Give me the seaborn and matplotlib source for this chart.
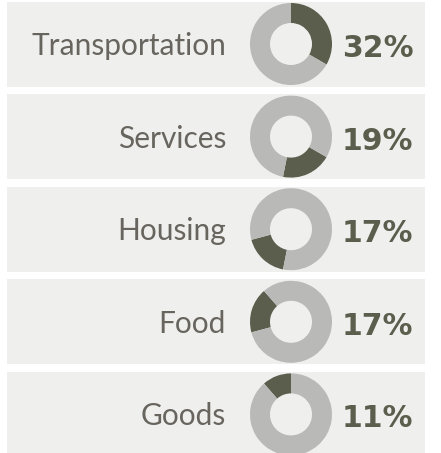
import numpy as np
import pandas as pd
import matplotlib.pyplot as plt
import seaborn as sns
from matplotlib.patches import Rectangle

categories=['Transportation','Services','Housing','Food','Goods']
shares=[32,19,17,17,11]
share_labels=['32%','19%','17%','17%','11%']

dark_col='#5b5e4d'
light_col='#b9b9b7'
band_col='#efefed'
text_col='#68655f'

sns.set_theme(style='white')
plt.rcParams['font.family']=['Lato','DejaVu Sans']

W,H=441,453
fig=plt.figure(figsize=(W/100,H/100),dpi=100)
ax=fig.add_axes([0,0,1,1])

df=pd.DataFrame({'category':categories,'share':shares,'label':share_labels})
total=df['share'].sum()
df['start']=df['share'].cumsum().shift(fill_value=0)/total

for i,row in df.iterrows():
    yc=H-(44+92.6*i)
    # grey band behind each row
    top=min(yc+42.5,H)
    ax.add_patch(Rectangle((7,yc-42.5),418,top-(yc-42.5),color=band_col,lw=0,zorder=0))
    frac=row['share']/total
    ax.pie([frac,1-frac],colors=[dark_col,light_col],startangle=90-360*row['start'],
           counterclock=False,center=(291,yc),radius=41,
           wedgeprops=dict(width=20,linewidth=0))
    ax.text(226,yc-11,row['category'],ha='right',va='baseline',fontsize=21.5,color=text_col)
    ax.text(342,yc-13,row['label'],ha='left',va='baseline',fontsize=21.5,fontweight='bold',
            family='DejaVu Sans',color=dark_col)

ax.set_xlim(0,W)
ax.set_ylim(0,H)
ax.set_aspect('equal')
ax.axis('off')
plt.savefig('out.png',dpi=100)
